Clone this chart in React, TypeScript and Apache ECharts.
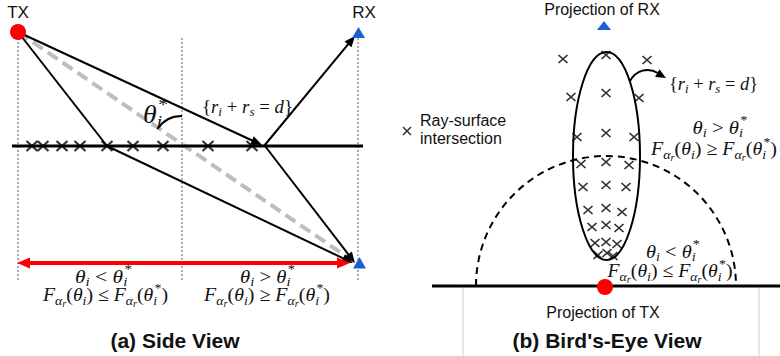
import React, { useEffect, useRef } from 'react';
import * as echarts from 'echarts';

const W = 780;
const H = 356;

// ---- data (pixel positions of the diagram) ----
// Side view: ray-surface intersections along the surface line
const sideCrossX = [32, 43, 62, 80, 107, 133, 163, 208, 252];
const sideSurfaceY = 146;
// Bird's-eye view: ray-surface intersections
const birdCrossX = [563, 606, 647, 571, 606, 639, 577, 606, 634, 581, 606, 629, 583, 606, 626, 588, 606, 622, 592, 606, 619, 595, 606, 617, 598, 607, 613];
const birdCrossY = [59, 55, 60, 97, 93, 98, 137, 133, 137, 164, 162, 165, 187, 185, 187, 210, 208, 212, 227, 225, 228, 243, 242, 244, 255, 253, 256];
const legendCross = [[407, 131]];

const labelsSans = {
  tx: 'TX',
  rx: 'RX',
  projRx: 'Projection of RX',
  projTx: 'Projection of TX',
  titleA: '(a) Side View',
  titleB: "(b) Bird's-Eye View",
  legend1: 'Ray-surface',
  legend2: 'intersection',
};

const SANS = '"Liberation Sans", Arial, Helvetica, sans-serif';
const MF = '"Liberation Serif", "DejaVu Serif", serif';
const RED = '#ff0000';
const BLUE = '#1a5fd4';

type Kind = 'v' | 'n' | 'b' | 'bb' | 'p';
type Tok = [string, Kind, boolean?];
const KS: Record<Kind, { s: number; dy: number; it: boolean }> = {
  v: { s: 1, dy: 0, it: true },
  n: { s: 1, dy: 0, it: false },
  b: { s: 0.7, dy: 0.28, it: true },
  bb: { s: 0.52, dy: 0.45, it: true },
  p: { s: 0.7, dy: -0.38, it: false },
};

let mctx: CanvasRenderingContext2D | null = null;
function measure(t: string, font: string) {
  if (!mctx) mctx = document.createElement('canvas').getContext('2d');
  mctx!.font = font;
  return mctx!.measureText(t).width;
}

function layout(toks: Tok[], size: number) {
  let cx = 0, lastStart = 0, lastW = 0;
  const items: any[] = [];
  for (const [t, k, stack] of toks) {
    const sp = KS[k];
    const fs = size * sp.s;
    const w = measure(t, `${sp.it ? 'italic ' : ''}${fs}px ${MF}`);
    let px: number;
    if (stack) {
      px = lastStart + size * 0.06;
      cx = Math.max(lastStart + lastW, px + w);
    } else {
      px = cx;
      lastStart = px;
      lastW = w;
      cx += w;
    }
    items.push({ t, px, fs, it: sp.it, dy: sp.dy * size });
  }
  return { items, total: cx };
}

function math(toks: Tok[], x: number, y: number, size: number, width: number, align: 'left' | 'center', color = '#111') {
  const l = layout(toks, size);
  const sx = width / l.total;
  const x0 = align === 'center' ? x - width / 2 : x;
  return l.items.map((it) => ({
    type: 'text',
    x: x0 + it.px * sx,
    y: y + it.dy,
    scaleX: sx,
    z: 10,
    style: {
      text: it.t,
      fontSize: it.fs,
      fontFamily: MF,
      fontStyle: it.it ? 'italic' : 'normal',
      fill: color,
      align: 'left',
      verticalAlign: 'middle',
      textAlign: 'left',
      textVerticalAlign: 'middle',
    },
  }));
}

function sans(text: string, x: number, y: number, size: number, bold = false, align = 'center') {
  return {
    type: 'text',
    x,
    y,
    z: 10,
    style: {
      text,
      fontSize: size,
      fontFamily: SANS,
      fontWeight: bold ? 'bold' : 'normal',
      fill: '#111',
      align,
      verticalAlign: 'middle',
      textAlign: align,
      textVerticalAlign: 'middle',
    },
  };
}

function line(x1: number, y1: number, x2: number, y2: number, stroke = '#000', lw = 2, dash?: number[], z = 3) {
  return {
    type: 'line',
    z,
    shape: { x1, y1, x2, y2 },
    style: { stroke, lineWidth: lw, lineDash: dash, fill: 'none' },
  };
}

function head(x1: number, y1: number, x2: number, y2: number, len = 11, wid = 4.5, color = '#000', z = 4) {
  const dx = x2 - x1, dy = y2 - y1;
  const L = Math.hypot(dx, dy);
  const ux = dx / L, uy = dy / L;
  const bx = x2 - ux * len, by = y2 - uy * len;
  return {
    type: 'polygon',
    z,
    shape: { points: [[x2, y2], [bx - uy * wid, by + ux * wid], [bx + uy * wid, by - ux * wid]] },
    style: { fill: color },
  };
}

function arrow(x1: number, y1: number, x2: number, y2: number, color = '#000', lw = 2, len = 11, wid = 4.5) {
  const dx = x2 - x1, dy = y2 - y1;
  const L = Math.hypot(dx, dy);
  const ux = dx / L, uy = dy / L;
  return [line(x1, y1, x2 - ux * (len - 2), y2 - uy * (len - 2), color, lw), head(x1, y1, x2, y2, len, wid, color)];
}

const thLt: Tok[] = [['θ', 'v'], ['i', 'b'], [' < ', 'n'], ['θ', 'v'], ['i', 'b'], ['*', 'p', true]];
const thGt: Tok[] = [['θ', 'v'], ['i', 'b'], [' > ', 'n'], ['θ', 'v'], ['i', 'b'], ['*', 'p', true]];
const fLe: Tok[] = [['F', 'v'], ['α', 'b'], ['r', 'bb'], ['(', 'n'], ['θ', 'v'], ['i', 'b'], [')', 'n'], [' ≤ ', 'n'], ['F', 'v'], ['α', 'b'], ['r', 'bb'], ['(', 'n'], ['θ', 'v'], ['i', 'b'], ['*', 'p', true], [')', 'n']];
const fGe: Tok[] = [['F', 'v'], ['α', 'b'], ['r', 'bb'], ['(', 'n'], ['θ', 'v'], ['i', 'b'], [')', 'n'], [' ≥ ', 'n'], ['F', 'v'], ['α', 'b'], ['r', 'bb'], ['(', 'n'], ['θ', 'v'], ['i', 'b'], ['*', 'p', true], [')', 'n']];
const ellipseEq: Tok[] = [['{', 'n'], ['r', 'v'], ['i', 'b'], [' + ', 'n'], ['r', 'v'], ['s', 'b'], [' = ', 'n'], ['d', 'v'], ['}', 'n']];
const thStar: Tok[] = [['θ', 'v'], ['i', 'b'], ['*', 'p', true]];

function buildGraphics() {
  const g: any[] = [];
  // ---------- Side view ----------
  [18, 182, 358].forEach((x) => g.push(line(x, 38, x, 282, '#8a8a8a', 1.4, [2, 2], 1)));
  g.push(line(18, 32, 350, 259, '#bdbdbd', 4, [12, 6], 2));
  g.push(line(12, sideSurfaceY, 363, sideSurfaceY, '#000', 3, undefined, 3));
  g.push(line(18, 32, 107, 146));
  g.push(...arrow(107, 146, 353, 263));
  g.push(...arrow(18, 32, 262, 145));
  g.push(...arrow(264, 146, 355, 36));
  g.push(...arrow(265, 146, 355, 263));
  g.push({
    type: 'arc',
    z: 4,
    shape: { cx: 182, cy: 146, r: 30, startAngle: Math.atan2(-114, -164), endAngle: -Math.PI / 2, clockwise: true },
    style: { stroke: '#000', lineWidth: 2, fill: 'none' },
  });
  g.push(...math(thStar, 143, 114, 25, 25, 'left'));
  g.push(...math(ellipseEq, 202, 106, 19, 91, 'left'));
  g.push(line(28, 263, 339, 263, RED, 4));
  g.push(head(339, 263, 350, 263, 13, 5.5, RED));
  g.push(head(28, 263, 17, 263, 13, 5.5, RED));
  g.push({ type: 'circle', z: 6, shape: { cx: 18, cy: 32, r: 8 }, style: { fill: RED } });
  g.push({ type: 'polygon', z: 6, shape: { points: [[352, 38], [365, 38], [358.5, 27]] }, style: { fill: BLUE } });
  g.push({ type: 'polygon', z: 6, shape: { points: [[353, 268.5], [366, 268.5], [359.5, 257]] }, style: { fill: BLUE } });
  g.push(sans(labelsSans.tx, 18, 12, 17));
  g.push(sans(labelsSans.rx, 364, 12, 17));
  g.push(...math(thLt, 103.5, 276, 19, 57, 'center'));
  g.push(...math(fLe, 105.5, 295, 19, 125, 'center'));
  g.push(...math(thGt, 267.5, 276, 19, 55, 'center'));
  g.push(...math(fGe, 267, 295, 19, 126, 'center'));
  g.push(sans(labelsSans.titleA, 175, 340, 21, true));

  // ---------- Bird's-eye view ----------
  g.push(sans(labelsSans.projRx, 602, 9, 16));
  g.push({ type: 'polygon', z: 6, shape: { points: [[597, 30], [611, 30], [604, 21]] }, style: { fill: BLUE } });
  g.push({ type: 'ellipse', z: 4, shape: { cx: 606.5, cy: 156, rx: 33.5, ry: 104 }, style: { stroke: '#000', lineWidth: 2, fill: 'none' } });
  g.push({
    type: 'arc',
    z: 3,
    shape: { cx: 606, cy: 286, r: 130, startAngle: Math.PI, endAngle: Math.PI * 2, clockwise: true },
    style: { stroke: '#000', lineWidth: 2, fill: 'none', lineDash: [7, 5] },
  });
  g.push(line(432, 286, 780, 286, '#000', 3, undefined, 3));
  g.push(line(463, 287, 463, 356, '#cfcfcf', 1, undefined, 1));
  g.push(line(759, 287, 759, 356, '#cfcfcf', 1, undefined, 1));
  g.push({ type: 'circle', z: 6, shape: { cx: 605, cy: 287, r: 8 }, style: { fill: RED } });
  g.push(sans(labelsSans.projTx, 603, 312, 16));
  g.push(sans(labelsSans.titleB, 607, 340, 21, true));
  g.push(sans(labelsSans.legend1, 420, 120, 16, false, 'left'));
  g.push(sans(labelsSans.legend2, 420, 138, 16, false, 'left'));
  g.push({
    type: 'bezierCurve',
    z: 4,
    shape: { x1: 630, y1: 81, cpx1: 636, cpy1: 70, cpx2: 648, cpy2: 67, x2: 658, y2: 73 },
    style: { stroke: '#000', lineWidth: 2, fill: 'none' },
  });
  g.push(head(650, 69, 666, 78, 10, 4.5));
  g.push(...math(ellipseEq, 669, 83, 19, 89, 'left'));
  g.push(...math(thGt, 720, 127, 19, 55, 'center'));
  g.push(...math(fGe, 651, 149, 19, 126, 'left'));
  g.push(...math(thLt, 673, 251, 19, 54, 'center'));
  g.push(...math(fLe, 670, 271, 19, 125, 'center'));
  return g;
}

export default function App() {
  const ref = useRef<HTMLDivElement>(null);
  useEffect(() => {
    if (!ref.current) return;
    const chart = echarts.init(ref.current, undefined, { renderer: 'svg' });
    const crossSym = 'path://M0,0L10,10M10,0L0,10';
    const sideData = sideCrossX.map((x) => [x, sideSurfaceY]);
    const birdData = birdCrossX.map((x, i) => [x, birdCrossY[i]]);
    chart.setOption({
      animation: false,
      backgroundColor: '#fff',
      grid: { left: 0, right: 0, top: 0, bottom: 0 },
      xAxis: { type: 'value', min: 0, max: W, show: false },
      yAxis: { type: 'value', min: 0, max: H, inverse: true, show: false },
      series: [
        {
          type: 'scatter',
          data: sideData,
          symbol: crossSym,
          symbolSize: [11, 10],
          z: 5,
          itemStyle: { color: 'transparent', borderColor: '#000', borderWidth: 2 },
          silent: true,
        },
        {
          type: 'scatter',
          data: birdData,
          symbol: crossSym,
          symbolSize: [9, 8],
          z: 5,
          itemStyle: { color: 'transparent', borderColor: '#000', borderWidth: 1.6 },
          silent: true,
        },
        {
          type: 'scatter',
          data: legendCross,
          symbol: crossSym,
          symbolSize: [8, 8],
          z: 5,
          itemStyle: { color: 'transparent', borderColor: '#000', borderWidth: 1.6 },
          silent: true,
        },
      ],
      graphic: { elements: buildGraphics() },
    });
    return () => chart.dispose();
  }, []);
  return (
    <div
      ref={ref}
      style={{ position: 'absolute', left: 0, top: 0, width: W, height: H, background: '#fff' }}
    />
  );
}
